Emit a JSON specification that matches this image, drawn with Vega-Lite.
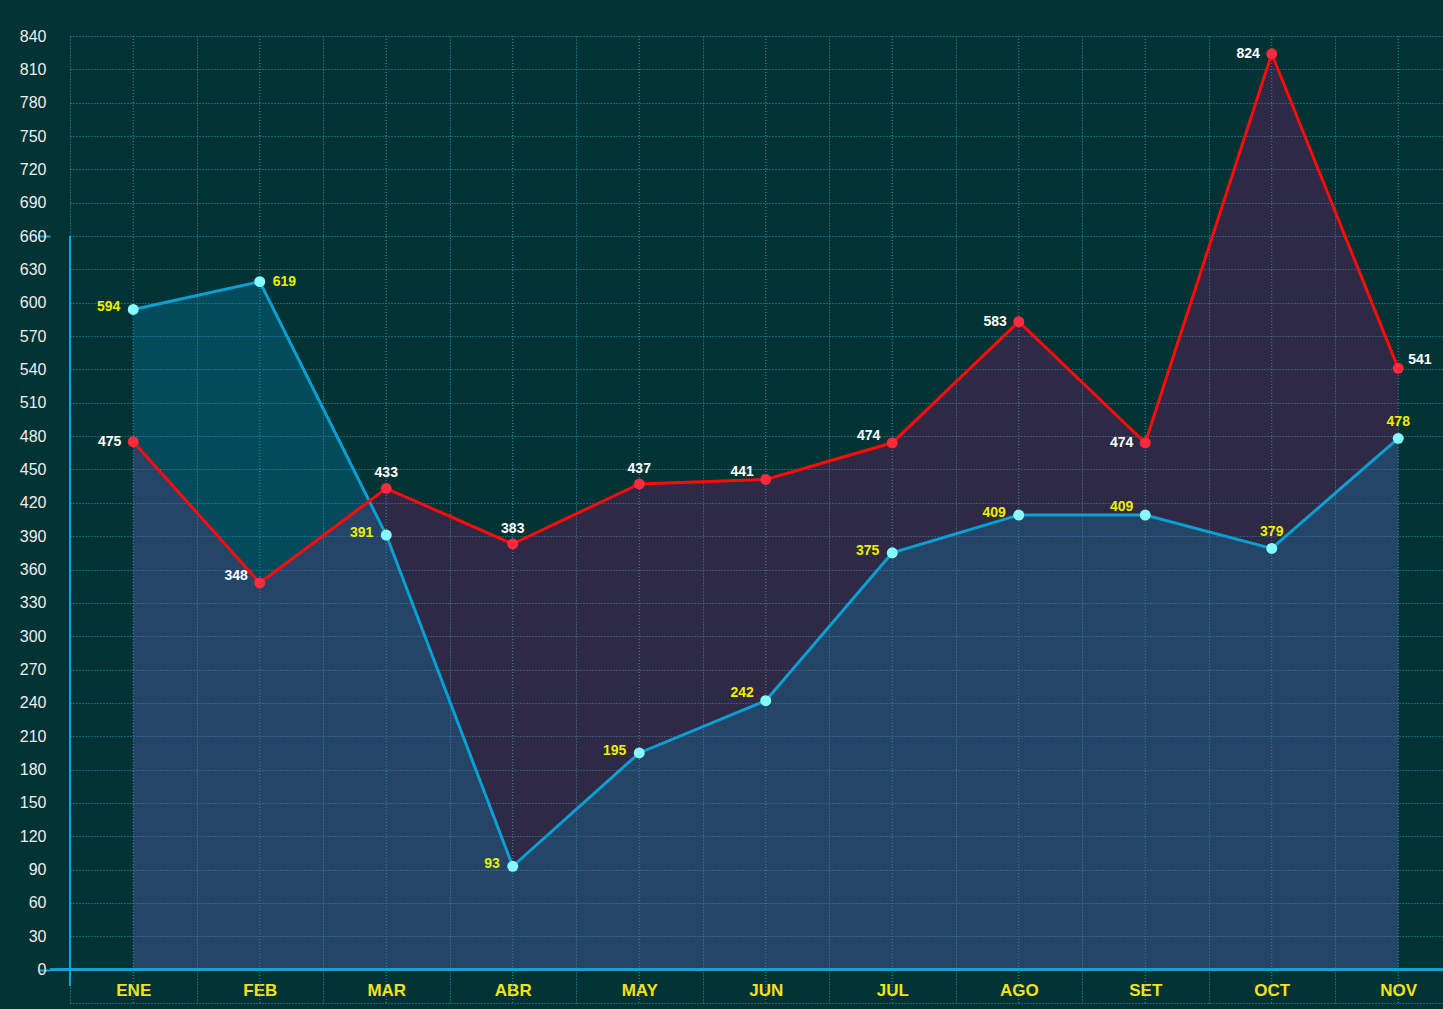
{
  "$schema": "https://vega.github.io/schema/vega-lite/v6.json",
  "width": 1393,
  "height": 967,
  "autosize": {"type": "none"},
  "padding": {"left": 50, "top": 36, "right": 0, "bottom": 6},
  "background": "#013334",
  "config": {"view": {"stroke": null}, "font": "Liberation Sans"},
  "data": {"values": [
    {"mes": "ENE", "serie": "A", "valor": 594},
    {"mes": "FEB", "serie": "A", "valor": 619},
    {"mes": "MAR", "serie": "A", "valor": 391},
    {"mes": "ABR", "serie": "A", "valor": 93},
    {"mes": "MAY", "serie": "A", "valor": 195},
    {"mes": "JUN", "serie": "A", "valor": 242},
    {"mes": "JUL", "serie": "A", "valor": 375},
    {"mes": "AGO", "serie": "A", "valor": 409},
    {"mes": "SET", "serie": "A", "valor": 409},
    {"mes": "OCT", "serie": "A", "valor": 379},
    {"mes": "NOV", "serie": "A", "valor": 478},
    {"mes": "ENE", "serie": "B", "valor": 475},
    {"mes": "FEB", "serie": "B", "valor": 348},
    {"mes": "MAR", "serie": "B", "valor": 433},
    {"mes": "ABR", "serie": "B", "valor": 383},
    {"mes": "MAY", "serie": "B", "valor": 437},
    {"mes": "JUN", "serie": "B", "valor": 441},
    {"mes": "JUL", "serie": "B", "valor": 474},
    {"mes": "AGO", "serie": "B", "valor": 583},
    {"mes": "SET", "serie": "B", "valor": 474},
    {"mes": "OCT", "serie": "B", "valor": 824},
    {"mes": "NOV", "serie": "B", "valor": 541}
  ]},
  "layer": [
    {
      "encoding": {
        "x": {
          "field": "mes", "type": "ordinal", "bandPosition": 0.5,
          "scale": {"type": "band", "domain": ["ENE","FEB","MAR","ABR","MAY","JUN","JUL","AGO","SET","OCT","NOV"], "range": [20, 1411.5], "paddingInner": 0, "paddingOuter": 0},
          "axis": {"title": null, "orient": "bottom", "offset": -34, "domain": false, "ticks": false, "labelColor": "#f7e11b", "labelFont": "Liberation Sans", "labelFontSize": 17, "labelFontWeight": "bold", "labelPadding": 13, "labelAngle": 0, "grid": true, "tickBand": "extent", "gridColor": "#1e9cc0", "gridDash": [1, 2], "gridWidth": 1}
        }
      },
      "layer": [
        {
          "transform": [{"filter": {"field": "serie", "equal": "A"}}],
          "mark": {"type": "rule", "color": "#1e9cc0", "strokeDash": [1, 2], "strokeWidth": 1},
          "encoding": {}
        },
        {
          "encoding": {
            "y": {
              "field": "valor", "type": "quantitative",
              "scale": {"domain": [-30, 840], "nice": false, "zero": false},
              "axis": {"title": null, "values": [-30,0,30,60,90,120,150,180,210,240,270,300,330,360,390,420,450,480,510,540,570,600,630,660,690,720,750,780,810,840], "tickCount": 60, "labelExpr": "datum.value < 0 ? '' : datum.label", "labelOverlap": false, "labelFlush": false, "domain": false, "ticks": true, "tickSize": 12, "tickWidth": 2, "tickColor": {"expr": "(datum.value === 660 || datum.value === 0) ? '#12a3d6' : 'transparent'"}, "labelPadding": -8, "labelColor": "#eeeeee", "labelFontSize": 16, "labelFont": "Liberation Sans", "gridColor": "#1e9cc0", "gridDash": [1, 2], "gridWidth": 1}
            }
          },
          "layer": [
            {
              "transform": [{"filter": {"field": "serie", "equal": "B"}}],
              "mark": {"type": "area", "color": "#e80b8d", "opacity": 0.2},
              "encoding": {"y2": {"datum": 0}}
            },
            {
              "transform": [{"filter": {"field": "serie", "equal": "A"}}],
              "mark": {"type": "area", "color": "#0b93c9", "opacity": 0.26},
              "encoding": {"y2": {"datum": 0}}
            },
            {
              "transform": [{"filter": {"field": "serie", "equal": "A"}}],
              "mark": {"type": "line", "color": "#0aa0d3", "strokeWidth": 3},
              "encoding": {}
            },
            {
              "transform": [{"filter": {"field": "serie", "equal": "B"}}],
              "mark": {"type": "line", "color": "#ff0a0a", "strokeWidth": 3},
              "encoding": {}
            },
            {
              "transform": [{"filter": {"field": "serie", "equal": "A"}}],
              "mark": {"type": "point", "filled": true, "size": 120, "color": "#86fbff", "opacity": 1},
              "encoding": {}
            },
            {
              "transform": [{"filter": {"field": "serie", "equal": "B"}}],
              "mark": {"type": "point", "filled": true, "size": 120, "color": "#ff2a3c", "opacity": 1},
              "encoding": {}
            },
            {
              "transform": [{"filter": {"and": [{"field": "serie", "equal": "A"}, {"field": "mes", "oneOf": ["ENE","MAR","ABR","MAY","JUL","AGO"]}]}}],
              "mark": {"type": "text", "align": "right", "baseline": "middle", "dx": -13, "dy": -2, "fontSize": 14, "fontWeight": "bold", "color": "#eeee00"},
              "encoding": {"text": {"field": "valor"}}
            },
            {
              "transform": [{"filter": {"and": [{"field": "serie", "equal": "A"}, {"field": "mes", "oneOf": ["JUN","SET"]}]}}],
              "mark": {"type": "text", "align": "right", "baseline": "middle", "dx": -12, "dy": -8, "fontSize": 14, "fontWeight": "bold", "color": "#eeee00"},
              "encoding": {"text": {"field": "valor"}}
            },
            {
              "transform": [{"filter": {"and": [{"field": "serie", "equal": "A"}, {"field": "mes", "oneOf": ["FEB"]}]}}],
              "mark": {"type": "text", "align": "left", "baseline": "middle", "dx": 13, "dy": 0, "fontSize": 14, "fontWeight": "bold", "color": "#eeee00"},
              "encoding": {"text": {"field": "valor"}}
            },
            {
              "transform": [{"filter": {"and": [{"field": "serie", "equal": "A"}, {"field": "mes", "oneOf": ["OCT","NOV"]}]}}],
              "mark": {"type": "text", "align": "center", "baseline": "middle", "dy": -16, "fontSize": 14, "fontWeight": "bold", "color": "#eeee00"},
              "encoding": {"text": {"field": "valor"}}
            },
            {
              "transform": [{"filter": {"and": [{"field": "serie", "equal": "B"}, {"field": "mes", "oneOf": ["ENE","AGO","SET","OCT"]}]}}],
              "mark": {"type": "text", "align": "right", "baseline": "middle", "dx": -12, "dy": 0, "fontSize": 14, "fontWeight": "bold", "color": "#ffffff"},
              "encoding": {"text": {"field": "valor"}}
            },
            {
              "transform": [{"filter": {"and": [{"field": "serie", "equal": "B"}, {"field": "mes", "oneOf": ["FEB","JUN","JUL"]}]}}],
              "mark": {"type": "text", "align": "right", "baseline": "middle", "dx": -12, "dy": -7, "fontSize": 14, "fontWeight": "bold", "color": "#ffffff"},
              "encoding": {"text": {"field": "valor"}}
            },
            {
              "transform": [{"filter": {"and": [{"field": "serie", "equal": "B"}, {"field": "mes", "oneOf": ["MAR","ABR","MAY"]}]}}],
              "mark": {"type": "text", "align": "center", "baseline": "middle", "dy": -15, "fontSize": 14, "fontWeight": "bold", "color": "#ffffff"},
              "encoding": {"text": {"field": "valor"}}
            },
            {
              "transform": [{"filter": {"and": [{"field": "serie", "equal": "B"}, {"field": "mes", "oneOf": ["NOV"]}]}}],
              "mark": {"type": "text", "align": "left", "baseline": "middle", "dx": 10, "dy": -8, "fontSize": 14, "fontWeight": "bold", "color": "#ffffff"},
              "encoding": {"text": {"field": "valor"}}
            }
          ]
        },
        {
          "mark": {"type": "rule", "color": "#12a3d6", "strokeWidth": 2},
          "encoding": {
            "x": {"datum": "ENE", "type": "ordinal", "bandPosition": 0},
            "y": {"datum": 660, "type": "quantitative"},
            "y2": {"datum": -14}
          }
        }
      ]
    },
    {
      "mark": {"type": "rule", "color": "#12a3d6", "strokeWidth": 2},
      "encoding": {"y": {"datum": 0, "type": "quantitative"}}
    }
  ]
}
